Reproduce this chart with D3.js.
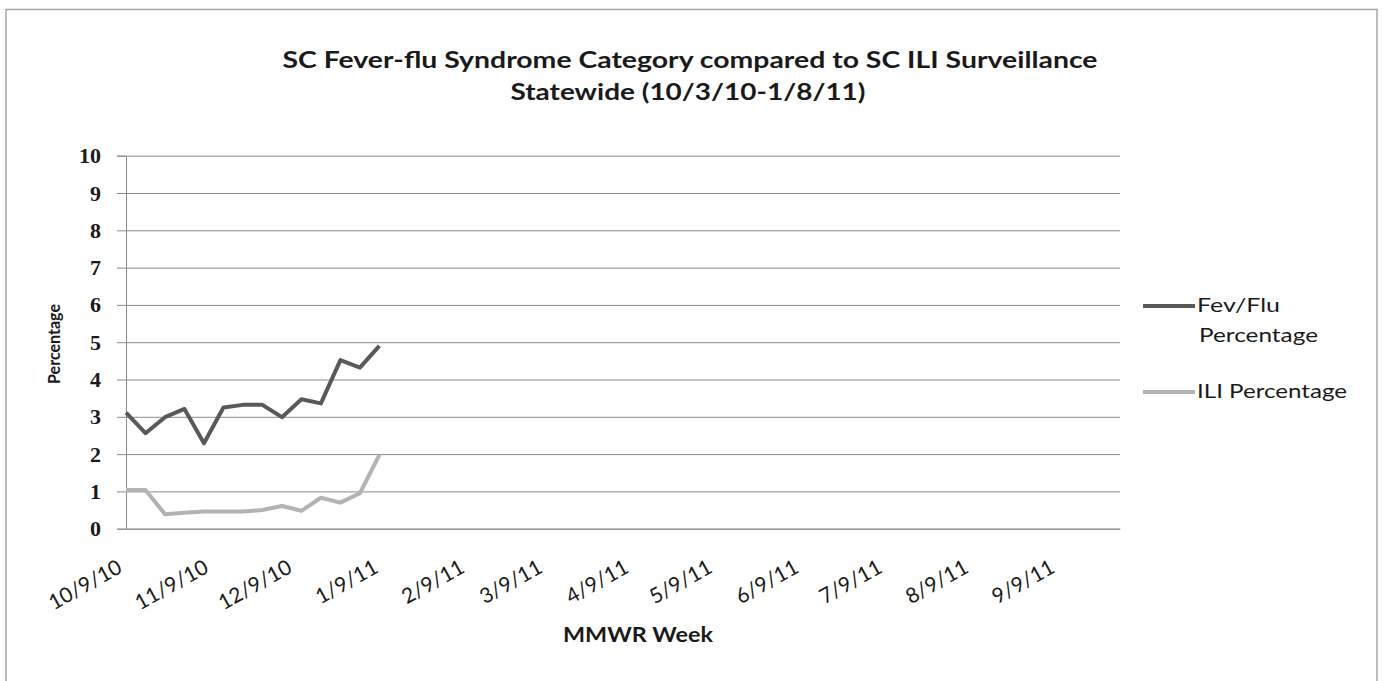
<!DOCTYPE html>
<html>
<head>
<meta charset="utf-8">
<script src="https://cdn.jsdelivr.net/npm/d3@7"></script>
<style>
  html, body { margin: 0; padding: 0; background: #fff; }
  svg { display: block; }
</style>
</head>
<body>
<svg id="chart" width="1383" height="681"></svg>
<script>
// ---- data ----
const weeks = ["10/9/10","10/16/10","10/23/10","10/30/10","11/6/10","11/13/10","11/20/10",
               "11/27/10","12/4/10","12/11/10","12/18/10","12/25/10","1/1/11","1/8/11"];
const fevFlu = [3.11, 2.56, 2.99, 3.21, 2.29, 3.25, 3.32, 3.32, 2.99, 3.47, 3.36, 4.52, 4.32, 4.90];
const ili    = [1.04, 1.04, 0.39, 0.43, 0.46, 0.46, 0.46, 0.50, 0.61, 0.48, 0.83, 0.70, 0.95, 1.98];
const xTickLabels = ["10/9/10","11/9/10","12/9/10","1/9/11","2/9/11","3/9/11","4/9/11",
                     "5/9/11","6/9/11","7/9/11","8/9/11","9/9/11"];
const xDomain = ["10/9/10","10/1/11"];
const yTicks = [0,1,2,3,4,5,6,7,8,9,10];
const seriesNames = ["Fev/Flu Percentage","ILI Percentage"];
const titleLines = ["SC Fever-flu Syndrome Category compared to SC ILI Surveillance",
                    "Statewide (10/3/10-1/8/11)"];

// ---- layout ----
const svg = d3.select("#chart");
const L = 126, R = 1120, T = 155.7, B = 528.7;
const parse = d3.timeParse("%m/%d/%y");
const fmt = d3.timeFormat("%-m/%-d/%y");
const sans = "Lato, 'Open Sans', sans-serif";

const x = d3.scaleTime().domain(xDomain.map(parse)).range([L, R]);
const y = d3.scaleLinear().domain([0, 10]).range([B, T]);

// border
svg.append("rect").attr("x", 6).attr("y", 9.5).attr("width", 1371).attr("height", 690)
  .attr("fill", "#fff").attr("stroke", "#a6a6a6").attr("stroke-width", 1.5);

// title
const title = svg.append("g").attr("font-family", sans).attr("font-weight", "bold")
  .attr("font-size", 22).attr("fill", "#1a1a1a").attr("text-anchor", "middle");
title.append("text").attr("x", 690).attr("y", 68)
  .attr("textLength", 815).attr("lengthAdjust", "spacingAndGlyphs").text(titleLines[0]);
title.append("text").attr("x", 688).attr("y", 100)
  .attr("textLength", 355).attr("lengthAdjust", "spacingAndGlyphs").text(titleLines[1]);

// gridlines
const grid = svg.append("g").attr("transform", `translate(${L},0)`)
  .call(d3.axisLeft(y).tickValues(yTicks).tickSize(-(R - L)).tickFormat(""));
grid.select(".domain").remove();
grid.selectAll(".tick line").attr("stroke", "#8a8a8a").attr("stroke-width", 1);

// y axis
const yAxis = svg.append("g").attr("transform", `translate(${L},0)`)
  .call(d3.axisLeft(y).tickValues(yTicks).tickSize(9).tickPadding(16));
yAxis.select(".domain").attr("stroke", "#8a8a8a");
yAxis.selectAll(".tick line").attr("stroke", "#8a8a8a");
yAxis.selectAll(".tick text").attr("font-family", "'Liberation Serif', 'Times New Roman', serif")
  .attr("font-weight", "bold").attr("font-size", 22).attr("fill", "#1a1a1a");

// x axis
const xAxis = svg.append("g").attr("transform", `translate(0,${B})`)
  .call(d3.axisBottom(x).tickValues(xTickLabels.map(parse)).tickSize(0).tickFormat(fmt));
xAxis.select(".domain").attr("stroke", "#8a8a8a");
xAxis.selectAll(".tick text")
  .attr("font-family", sans).attr("font-size", 21).attr("fill", "#1a1a1a")
  .attr("text-anchor", "end").attr("dy", null).attr("y", 0)
  .attr("transform", "translate(-3,43) rotate(-29)");

// axis titles
svg.append("text").attr("transform", "translate(60,344) rotate(-90)").attr("text-anchor", "middle")
  .attr("font-family", sans).attr("font-weight", "bold")
  .attr("font-size", 17).attr("fill", "#1a1a1a")
  .attr("textLength", 80).attr("lengthAdjust", "spacingAndGlyphs").text("Percentage");
svg.append("text").attr("x", 638).attr("y", 642).attr("text-anchor", "middle")
  .attr("font-family", sans).attr("font-weight", "bold")
  .attr("font-size", 21).attr("fill", "#1a1a1a")
  .attr("textLength", 150).attr("lengthAdjust", "spacingAndGlyphs").text("MMWR Week");

// lines
const colors = ["#595959", "#b3b3b3"];
const line = d3.line().x((d, i) => x(parse(weeks[i]))).y(d => y(d));
[fevFlu, ili].forEach((s, k) => {
  svg.append("path").datum(s).attr("d", line).attr("fill", "none")
    .attr("stroke", colors[k]).attr("stroke-width", 4).attr("stroke-linejoin", "round");
});

// legend
const lg = svg.append("g").attr("font-family", sans)
  .attr("font-size", 20).attr("fill", "#1a1a1a");
lg.append("line").attr("x1", 1143).attr("x2", 1195).attr("y1", 306).attr("y2", 306)
  .attr("stroke", colors[0]).attr("stroke-width", 4);
lg.append("text").attr("x", 1197).attr("y", 312)
  .attr("textLength", 83).attr("lengthAdjust", "spacingAndGlyphs").text("Fev/Flu");
lg.append("text").attr("x", 1199).attr("y", 342)
  .attr("textLength", 119).attr("lengthAdjust", "spacingAndGlyphs").text("Percentage");
lg.append("line").attr("x1", 1143).attr("x2", 1195).attr("y1", 392).attr("y2", 392)
  .attr("stroke", colors[1]).attr("stroke-width", 4);
lg.append("text").attr("x", 1197).attr("y", 398)
  .attr("textLength", 150).attr("lengthAdjust", "spacingAndGlyphs").text(seriesNames[1]);
</script>
</body>
</html>
